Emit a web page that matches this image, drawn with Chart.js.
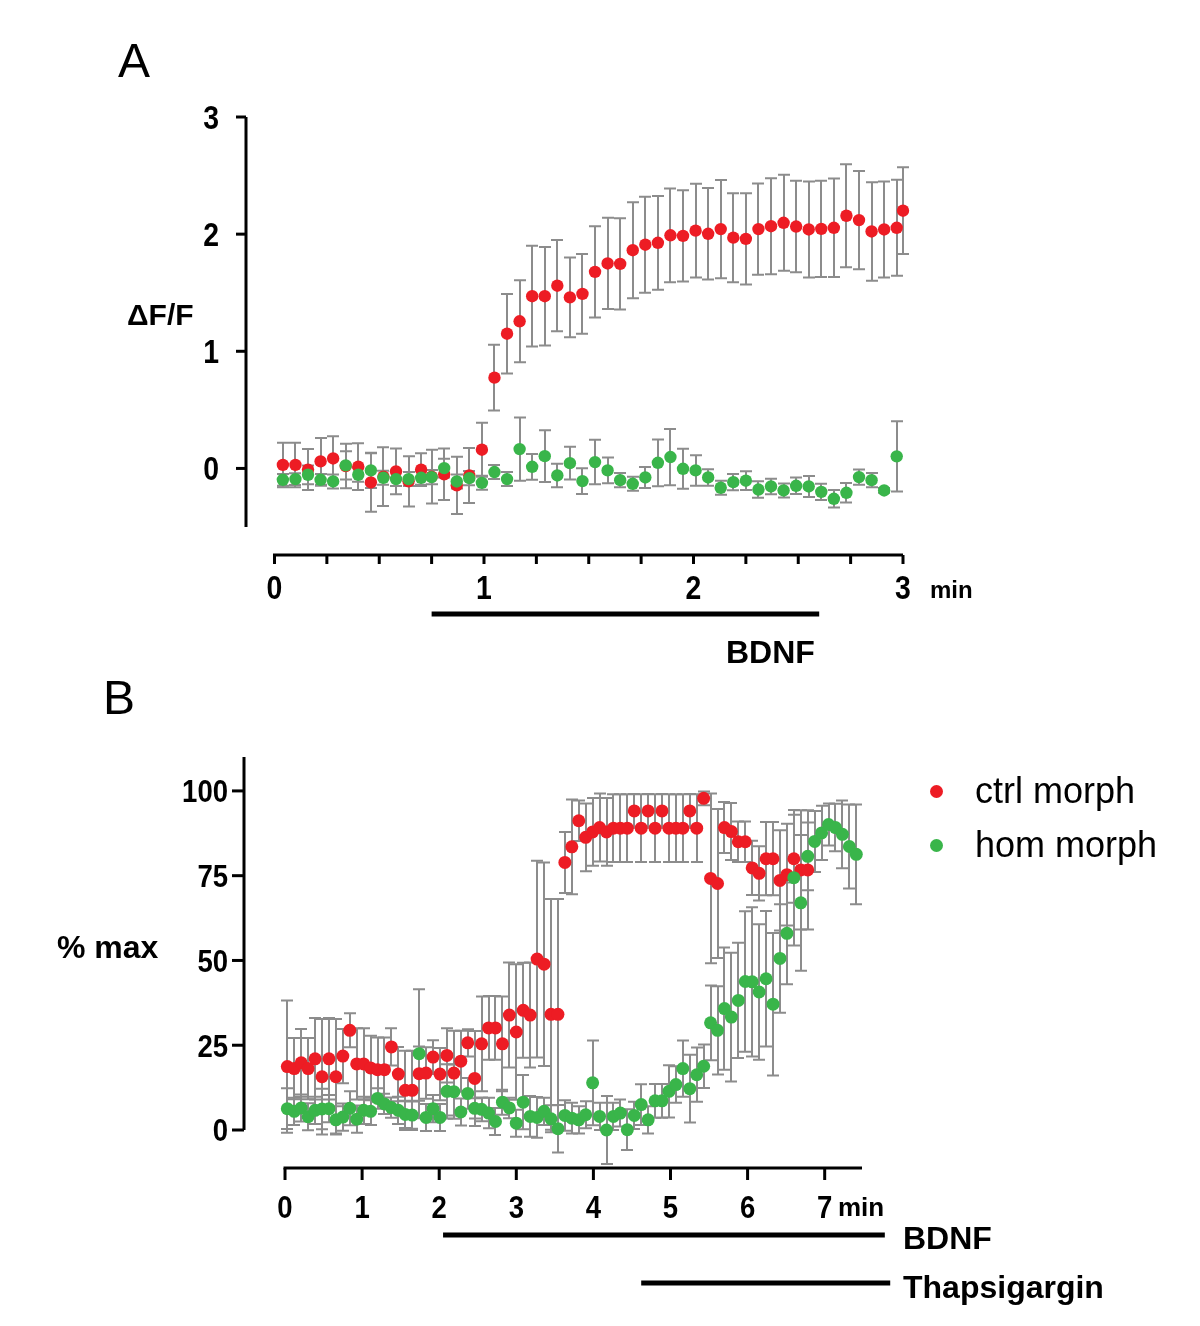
<!DOCTYPE html>
<html><head><meta charset="utf-8">
<script src="https://cdn.jsdelivr.net/npm/chart.js@4.4.0/dist/chart.umd.min.js"></script>
<style>
html,body{margin:0;padding:0;background:#fff;}
#wrap{position:relative;width:1200px;height:1326px;overflow:hidden;background:#fff;}
canvas{position:absolute;left:0;top:0;}
.t{position:absolute;font-family:"Liberation Sans",Arial,sans-serif;color:#000;white-space:nowrap;line-height:1;}
.b{font-weight:bold;}
.dot{position:absolute;width:13px;height:13px;border-radius:50%;}
</style></head>
<body><div id="wrap">
<canvas id="cA" width="1200" height="1326"></canvas>
<canvas id="cB" width="1200" height="1326"></canvas>
<div class="t" style="left:118px;top:37px;font-size:48px;">A</div>
<div class="t" style="left:103px;top:674px;font-size:48px;">B</div>
<div class="t b" style="left:127px;top:300px;font-size:30px;">ΔF/F</div>
<div class="t b" style="left:57px;top:931px;font-size:32px;">% max</div>
<div class="t b" style="left:930px;top:578px;font-size:24px;">min</div>
<div class="t b" style="left:838px;top:1194px;font-size:26px;">min</div>
<div class="t b" style="left:726px;top:636px;font-size:32px;">BDNF</div>
<div class="t b" style="left:903px;top:1222px;font-size:32px;">BDNF</div>
<div class="t b" style="left:903px;top:1271px;font-size:32px;">Thapsigargin</div>
<div class="dot" style="left:930px;top:785px;background:#ED1C24;"></div>
<div class="dot" style="left:930px;top:839px;background:#39B54A;"></div>
<div class="t" style="left:975px;top:773px;font-size:36px;">ctrl morph</div>
<div class="t" style="left:975px;top:827px;font-size:36px;">hom morph</div>
</div>
<script>
// ---------- Panel A data ----------
const timesA = [0.04,0.10,0.16,0.22,0.28,0.34,0.40,0.46,0.52,0.58,0.64,0.70,0.75,0.81,0.87,0.93,0.99,1.05,1.11,1.17,1.23,1.29,1.35,1.41,1.47,1.53,1.59,1.65,1.71,1.77,1.83,1.89,1.95,2.01,2.07,2.13,2.19,2.25,2.31,2.37,2.43,2.49,2.55,2.61,2.67,2.73,2.79,2.85,2.91,2.97,3.00];
const ctrlA = [0.03,0.03,-0.01,0.06,0.085,0.02,0.015,-0.12,-0.07,-0.025,-0.11,-0.01,-0.07,-0.05,-0.145,-0.06,0.16,0.775,1.15,1.256,1.47,1.47,1.56,1.46,1.49,1.678,1.75,1.746,1.863,1.91,1.926,1.99,1.985,2.03,2.003,2.043,1.97,1.96,2.043,2.068,2.097,2.065,2.04,2.045,2.054,2.157,2.12,2.023,2.04,2.054,2.2];
const ctrlAErr = [0.19,0.19,0.175,0.2,0.19,0.19,0.2,0.25,0.25,0.195,0.215,0.14,0.23,0.22,0.245,0.235,0.23,0.28,0.34,0.35,0.43,0.42,0.39,0.34,0.34,0.39,0.39,0.39,0.41,0.41,0.4,0.4,0.39,0.4,0.39,0.42,0.38,0.39,0.39,0.41,0.41,0.39,0.41,0.41,0.42,0.44,0.42,0.42,0.41,0.41,0.37];
const homA = [-0.097,-0.091,-0.054,-0.097,-0.111,0.026,-0.054,-0.017,-0.08,-0.091,-0.091,-0.08,-0.074,0.003,-0.111,-0.083,-0.123,-0.031,-0.091,0.165,0.014,0.105,-0.06,0.045,-0.108,0.054,-0.017,-0.1,-0.131,-0.077,0.048,0.097,-0.003,-0.017,-0.077,-0.165,-0.117,-0.105,-0.18,-0.154,-0.188,-0.148,-0.154,-0.2,-0.259,-0.208,-0.074,-0.1,-0.188,0.103,null];
const homAErr = [0.05,0.05,0.08,0.05,0.06,0.12,0.06,0.15,0.06,0.06,0.06,0.06,0.06,0.08,0.06,0.06,0.06,0.06,0.06,0.27,0.11,0.22,0.1,0.14,0.11,0.19,0.11,0.06,0.06,0.09,0.2,0.24,0.17,0.13,0.07,0.06,0.07,0.08,0.07,0.066,0.06,0.07,0.09,0.07,0.075,0.083,0.065,0.06,0.02,0.3,null];
const yTicksA = [0,1,2,3];
const xTicksA = [0,0.25,0.5,0.75,1,1.25,1.5,1.75,2,2.25,2.5,2.75,3];
const xLabelsA = [0,1,2,3];
const bdnfA = [0.75,2.6];

// ---------- Panel B data ----------
const timesB = [0.03,0.12,0.21,0.30,0.39,0.48,0.57,0.66,0.75,0.84,0.93,1.02,1.11,1.20,1.29,1.38,1.47,1.56,1.65,1.74,1.83,1.92,2.01,2.10,2.19,2.28,2.37,2.46,2.55,2.64,2.73,2.82,2.91,3.00,3.09,3.18,3.27,3.36,3.45,3.54,3.63,3.72,3.81,3.90,3.99,4.08,4.17,4.26,4.35,4.44,4.53,4.62,4.71,4.80,4.89,4.98,5.07,5.16,5.25,5.34,5.43,5.52,5.61,5.70,5.79,5.88,5.97,6.06,6.15,6.24,6.33,6.42,6.51,6.60,6.69,6.78,6.87,6.96,7.05,7.14,7.23,7.32,7.41];
const ctrlB = [18.7,18.1,19.8,18.1,21.0,15.7,21.0,15.7,21.8,29.4,19.5,19.5,18.3,17.8,17.8,24.5,16.5,11.7,11.7,16.6,16.8,21.5,16.5,22.0,16.8,20.3,25.7,15.2,25.4,30.1,30.1,25.4,33.9,28.9,35.3,33.9,50.4,48.9,34.1,34.1,78.9,83.5,91.2,86.3,87.9,89.2,87.9,89.0,89.0,89.0,94.1,89.0,94.1,89.0,94.1,89.0,89.0,89.0,94.1,89.0,97.8,74.2,72.7,89.2,88.0,85.0,85.0,77.3,75.7,80.0,80.0,73.6,75.3,80.0,76.7,76.7,null,null,null,null,null,null,null];
const ctrlBErr = [19.5,9,10,9,12,17,12,17,8,5,10.5,10.5,9.5,9.5,9.5,5.5,8,11.7,11.7,8,7.6,5,7.7,8,12.5,9,4,14,14,9.4,9.4,14,15.5,20,14,15.5,29,30,34,34,9,14,6,10,10,10,10,10,10,10,5,10,5,10,5,10,10,10,5,10,2,25,22,7.5,8.4,6,6,8,8,10.8,10.8,14.8,15,13,17.6,17.6,null,null,null,null,null,null,null];
const homB = [6.3,5.5,6.5,3.9,5.8,6.2,6.3,3.0,3.8,6.4,3.2,5.8,5.5,9.3,7.7,6.6,5.8,4.6,4.4,22.5,3.7,6.3,3.7,11.4,11.3,5.3,10.8,6.4,6.1,5.0,2.5,8.2,6.5,2.0,8.2,4.0,3.7,5.5,3.3,0.4,4.3,3.5,3.0,4.5,13.9,4.0,0.0,4.0,5.0,0.1,4.3,7.5,3.0,8.6,8.6,11.4,13.4,18.1,12.2,16.3,18.8,31.6,29.4,35.8,33.3,38.2,43.8,43.7,40.7,44.6,37.1,50.6,58.0,74.4,67.0,80.7,85.1,87.6,90.1,89.2,87.2,83.6,81.3];
const homBErr = [6,4,4,4,4,6,4,4,4,5,4,4,4,3,3,3,4,4,4,19,4,4,4,8,8,4,4.5,3,3.5,4.5,4,3.7,3,4,8,6,6,4,4,7,4.5,4.5,4,4,12.5,4,10,4,4,6,4,6,4,5,5,7.7,5.4,8.3,10,8,6.4,11,13,18,19,17,20.7,22,20,20,21,16,15,20,20,10,9,8,6.2,7,10,12.4,14.7];
const yTicksB = [0,25,50,75,100];
const xTicksB = [0,1,2,3,4,5,6,7];
const xLabelsB = [0,1,2,3,4,5,6,7];
const bdnfB = [2.05,7.78];
const thapsB = [4.62,7.85];

const RED = '#ED1C24', GREEN = '#39B54A', ERR = '#8C8C8C';
const FONT = '"Liberation Sans", Arial, sans-serif';

const errorBars = {
  id: 'errorBars',
  beforeDatasetsDraw(chart) {
    const ctx = chart.ctx, ys = chart.scales.y;
    ctx.save();
    ctx.strokeStyle = ERR; ctx.lineWidth = 2;
    chart.data.datasets.forEach((ds, di) => {
      const meta = chart.getDatasetMeta(di);
      ds.data.forEach((p, i) => {
        const e = ds.errors[i];
        if (p.y == null || e == null) return;
        const x = Math.round(meta.data[i].x);
        const yt = ys.getPixelForValue(p.y + e), yb = ys.getPixelForValue(p.y - e);
        ctx.beginPath();
        ctx.moveTo(x, yt); ctx.lineTo(x, yb);
        ctx.moveTo(x - 6, yt); ctx.lineTo(x + 6, yt);
        ctx.moveTo(x - 6, yb); ctx.lineTo(x + 6, yb);
        ctx.stroke();
      });
    });
    ctx.restore();
  }
};

function condensedText(ctx, text, x, y, sx) {
  ctx.save(); ctx.translate(x, y); ctx.scale(sx, 1); ctx.fillText(text, 0, 0); ctx.restore();
}

const axes = {
  id: 'axes',
  afterDraw(chart, args, o) {
    const ctx = chart.ctx, xs = chart.scales.x, ys = chart.scales.y, ca = chart.chartArea;
    ctx.save();
    ctx.strokeStyle = '#000'; ctx.fillStyle = '#000'; ctx.lineWidth = 3;
    // y axis
    ctx.beginPath(); ctx.moveTo(ca.left, ca.top); ctx.lineTo(ca.left, ca.bottom); ctx.stroke();
    ctx.font = 'bold ' + o.tickFont + 'px ' + FONT;
    ctx.textAlign = 'right'; ctx.textBaseline = 'alphabetic';
    o.yTicks.forEach(v => {
      const y = ys.getPixelForValue(v);
      ctx.beginPath(); ctx.moveTo(ca.left - o.yTickLen, y); ctx.lineTo(ca.left, y); ctx.stroke();
      condensedText(ctx, String(v), ca.left - o.yLabelGap, y + 0.358 * o.tickFont, o.sx);
    });
    // x axis (offset below)
    const x0 = xs.getPixelForValue(o.xStart), x1 = xs.getPixelForValue(o.xEnd);
    ctx.beginPath(); ctx.moveTo(x0 - 1.5, o.xAxisY); ctx.lineTo(x1, o.xAxisY); ctx.stroke();
    o.xTicks.forEach(v => {
      const x = xs.getPixelForValue(v);
      ctx.beginPath(); ctx.moveTo(x, o.xAxisY); ctx.lineTo(x, o.xAxisY + o.xTickLen); ctx.stroke();
    });
    ctx.textAlign = 'center';
    o.xLabels.forEach(v => {
      const x = xs.getPixelForValue(v);
      condensedText(ctx, String(v), x, o.xLabelY + 0.358 * o.tickFont, o.sx);
    });
    // treatment bars
    ctx.lineWidth = 5;
    o.bars.forEach(b => {
      ctx.beginPath();
      ctx.moveTo(xs.getPixelForValue(b.range[0]), b.y);
      ctx.lineTo(xs.getPixelForValue(b.range[1]), b.y);
      ctx.stroke();
    });
    ctx.restore();
  }
};

function pts(times, vals) { return times.map((t, i) => ({ x: t, y: vals[i] })); }

function makeChart(id, cfg) {
  return new Chart(document.getElementById(id), {
    type: 'scatter',
    data: {
      datasets: [
        { label: 'hom morph', data: pts(cfg.times, cfg.hom), errors: cfg.homErr, backgroundColor: GREEN, pointRadius: cfg.r, pointBorderWidth: 0, order: 0, clip: false },
        { label: 'ctrl morph', data: pts(cfg.times, cfg.ctrl), errors: cfg.ctrlErr, backgroundColor: RED, pointRadius: cfg.r, pointBorderWidth: 0, order: 1, clip: false }
      ]
    },
    options: {
      responsive: false, animation: false, devicePixelRatio: 1,
      layout: { padding: cfg.padding },
      scales: {
        x: { type: 'linear', min: cfg.xMin, max: cfg.xMax, display: false },
        y: { type: 'linear', min: cfg.yMin, max: cfg.yMax, display: false }
      },
      plugins: { legend: { display: false }, tooltip: { enabled: false }, axes: cfg.axes }
    },
    plugins: [errorBars, axes]
  });
}

makeChart('cA', {
  times: timesA, ctrl: ctrlA, ctrlErr: ctrlAErr, hom: homA, homErr: homAErr, r: 6.2,
  padding: { left: 246, top: 117, right: 297, bottom: 799 },
  xMin: -0.136, xMax: 3.0, yMin: -0.5, yMax: 3,
  axes: { yTicks: yTicksA, yTickLen: 10, yLabelGap: 27, tickFont: 33, sx: 0.86,
    xStart: 0, xEnd: 3, xAxisY: 555, xTicks: xTicksA, xTickLen: 9, xLabels: xLabelsA, xLabelY: 587,
    bars: [{ range: bdnfA, y: 614 }] }
});

makeChart('cB', {
  times: timesB, ctrl: ctrlB, ctrlErr: ctrlBErr, hom: homB, homErr: homBErr, r: 6.5,
  padding: { left: 244, top: 757, right: 338, bottom: 196 },
  xMin: -0.532, xMax: 7.484, yMin: 0, yMax: 110,
  axes: { yTicks: yTicksB, yTickLen: 12, yLabelGap: 16, tickFont: 32, sx: 0.86,
    xStart: 0, xEnd: 7.484, xAxisY: 1168, xTicks: xTicksB, xTickLen: 12, xLabels: xLabelsB, xLabelY: 1207,
    bars: [{ range: bdnfB, y: 1235 }, { range: thapsB, y: 1283 }] }
});
</script>
</body></html>
